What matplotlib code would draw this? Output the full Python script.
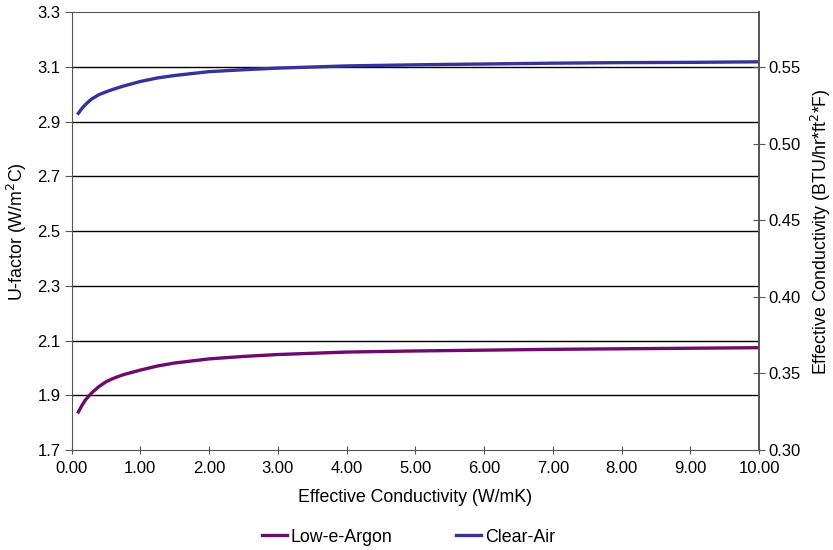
import matplotlib
matplotlib.use("Agg")
import matplotlib.pyplot as plt

plt.rcParams['font.family'] = ['Liberation Sans', 'DejaVu Sans']

# effective conductivity (W/mK)
Conductivity = [0.1, 0.15, 0.2, 0.25, 0.3, 0.4, 0.5, 0.6, 0.75, 1.0, 1.25, 1.5, 2.0,
                2.5, 3.0, 4.0, 5.0, 6.0, 7.0, 8.0, 9.0, 10.0]

# U-factor (W/m2C)
Low_e_Argon = [1.839, 1.862, 1.882, 1.897, 1.910, 1.932, 1.949, 1.961, 1.975, 1.992,
               2.007, 2.018, 2.033, 2.042, 2.049, 2.058, 2.062, 2.065, 2.068, 2.070,
               2.072, 2.074]
Clear_Air = [2.931, 2.948, 2.962, 2.974, 2.984, 2.999, 3.009, 3.018, 3.030, 3.047,
             3.060, 3.069, 3.083, 3.090, 3.096, 3.104, 3.108, 3.111, 3.114, 3.116,
             3.117, 3.119]

Left_Ticks = [1.7, 1.9, 2.1, 2.3, 2.5, 2.7, 2.9, 3.1, 3.3]
Right_Ticks = [0.30, 0.35, 0.40, 0.45, 0.50, 0.55]
X_Ticks = [0, 1, 2, 3, 4, 5, 6, 7, 8, 9, 10]

spine_col = '#555555'

fig = plt.figure(figsize=(8.33, 5.5), dpi=100)
ax = fig.add_axes([71.5 / 833, 1 - 450 / 550, (759 - 71.5) / 833, (450 - 12.3) / 550])

for y in Left_Ticks[1:-1]:
    ax.axhline(y, color='black', lw=1.0, zorder=1)

ax.plot(Conductivity, Low_e_Argon, color='#6E0A6E', lw=2.4, label='Low-e-Argon', zorder=3)
ax.plot(Conductivity, Clear_Air, color='#333399', lw=2.4, label='Clear-Air', zorder=3)

ax.set_xlim(0, 10)
ax.set_ylim(1.7, 3.3)
ax.set_yticks(Left_Ticks)
ax.set_yticklabels(['%.1f' % t for t in Left_Ticks])
ax.set_xticks(X_Ticks)
ax.set_xticklabels(['%.2f' % t for t in X_Ticks])
ax.tick_params(axis='y', direction='out', length=5, color=spine_col, labelsize=12, pad=3)
ax.tick_params(axis='x', direction='inout', length=6, color=spine_col, labelsize=12, pad=5)
for s in ['left', 'bottom', 'top']:
    ax.spines[s].set_color(spine_col)
ax.spines['right'].set_visible(False)

ax.set_xlabel('Effective Conductivity (W/mK)', fontsize=12.8, labelpad=9)
ax.set_ylabel('U-factor (W/m$^2$C)', fontsize=12.8, labelpad=6)

# right axis, same scale: 3.1 <-> 0.55, 1.7 <-> 0.30
ax2 = ax.twinx()
scale = 0.25 / 1.4
ax2.set_ylim(0.30, 0.30 + 1.6 * scale)
ax2.set_yticks(Right_Ticks)
ax2.set_yticklabels(['%.2f' % t for t in Right_Ticks])
ax2.tick_params(axis='y', direction='inout', length=8, color=spine_col, labelsize=12, pad=3)
ax2.spines['right'].set_color(spine_col)
ax2.spines['right'].set_linewidth(1.4)
for s in ['left', 'bottom', 'top']:
    ax2.spines[s].set_visible(False)
ax2.set_ylabel('Effective Conductivity (BTU/hr*ft$^2$*F)', fontsize=12.8, labelpad=6)

leg = ax.legend(loc='center', bbox_to_anchor=(0.49, -0.199), ncol=2, frameon=False,
                fontsize=12.8, handlelength=1.4, columnspacing=3.6, handletextpad=0.2,
                borderpad=0.1)

fig.savefig('out.png', dpi=100)
